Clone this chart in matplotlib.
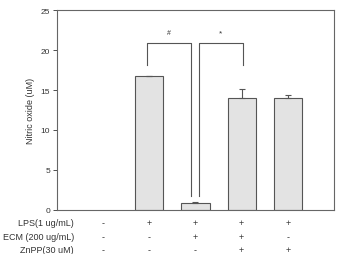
import numpy as np
import matplotlib.pyplot as plt

plt.rcParams['font.family'] = ['Liberation Sans', 'DejaVu Sans']

# Data
groups = [0, 1, 2, 3, 4]
values = [0.0, 16.75, 0.85, 14.0, 14.0]
errors = [0.0, 0.08, 0.12, 1.1, 0.4]
row_labels = ['LPS(1 ug/mL)', 'ECM (200 ug/mL)', 'ZnPP(30 uM)']
row_signs = [['-', '+', '+', '+', '+'],
             ['-', '-', '+', '+', '-'],
             ['-', '-', '-', '+', '+']]
yticks = [0, 5, 10, 15, 20, 25]

txt = '#333333'
fig = plt.figure(figsize=(3.37, 2.55), dpi=100)
ax = fig.add_axes([0.169, 0.174, 0.822, 0.781])

ax.bar(groups[1:], values[1:], width=0.61, color='#e3e3e3', edgecolor='#555555',
       linewidth=0.8, zorder=2)
ax.errorbar(groups[1:], values[1:], yerr=[np.zeros(4), errors[1:]], fmt='none',
            ecolor='#555555', elinewidth=0.8, capsize=2.5, capthick=0.8, zorder=3)

# significance brackets
lc = '#555555'
ax.plot([0.95, 0.95, 1.91, 1.91], [18.2, 20.9, 20.9, 1.75], color=lc, lw=0.8)
ax.plot([2.07, 2.07, 3.03, 3.03], [1.75, 20.9, 20.9, 18.1], color=lc, lw=0.8)
ax.text(1.43, 21.8, '#', ha='center', va='bottom', fontsize=5, color=txt)
ax.text(2.55, 21.8, '*', ha='center', va='bottom', fontsize=6, color=txt)

ax.set_xlim(-1, 5)
ax.set_ylim(0, 25)
ax.set_yticks(yticks)
ax.set_xticks([])
ax.tick_params(axis='y', labelsize=6, colors=txt, length=3, width=0.6, pad=2)
for s in ax.spines.values():
    s.set_color('#666666')
    s.set_linewidth(0.8)
ax.set_ylabel('Nitric oxide (uM)', fontsize=6.5, color=txt, labelpad=4)

# treatment table under the axis
tr = ax.get_xaxis_transform()
row_y = [-0.063, -0.134, -0.199]
for lab, signs, yy in zip(row_labels, row_signs, row_y):
    ax.text(0.061, yy, lab, transform=ax.transAxes, ha='right', va='center',
            fontsize=6.5, color=txt)
    for g, s in zip(groups, signs):
        ax.text(g, yy, s, transform=tr, ha='center', va='center',
                fontsize=6.5, color=txt)

fig.savefig('out.png', dpi=100)
